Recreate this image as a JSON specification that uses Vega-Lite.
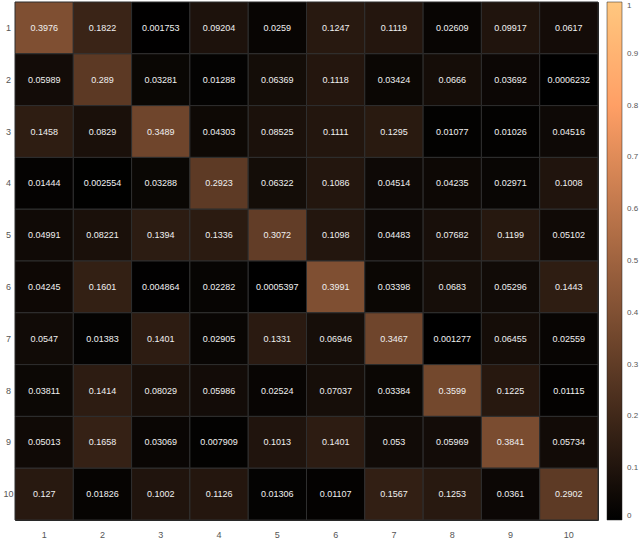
{
  "$schema": "https://vega.github.io/schema/vega-lite/v6.json",
  "autosize": {"type": "none"},
  "padding": {"left": 15, "top": 2, "right": 42, "bottom": 22},
  "width": 583,
  "height": 518,
  "background": "white",
  "config": {"view": {"stroke": "#222", "strokeWidth": 1}, "font": "Liberation Sans"},
  "data": {"values": [
    {"r":1,"c":1,"v":0.3976},{"r":1,"c":2,"v":0.1822},{"r":1,"c":3,"v":0.001753},{"r":1,"c":4,"v":0.09204},{"r":1,"c":5,"v":0.0259},{"r":1,"c":6,"v":0.1247},{"r":1,"c":7,"v":0.1119},{"r":1,"c":8,"v":0.02609},{"r":1,"c":9,"v":0.09917},{"r":1,"c":10,"v":0.0617},
    {"r":2,"c":1,"v":0.05989},{"r":2,"c":2,"v":0.289},{"r":2,"c":3,"v":0.03281},{"r":2,"c":4,"v":0.01288},{"r":2,"c":5,"v":0.06369},{"r":2,"c":6,"v":0.1118},{"r":2,"c":7,"v":0.03424},{"r":2,"c":8,"v":0.0666},{"r":2,"c":9,"v":0.03692},{"r":2,"c":10,"v":0.0006232},
    {"r":3,"c":1,"v":0.1458},{"r":3,"c":2,"v":0.0829},{"r":3,"c":3,"v":0.3489},{"r":3,"c":4,"v":0.04303},{"r":3,"c":5,"v":0.08525},{"r":3,"c":6,"v":0.1111},{"r":3,"c":7,"v":0.1295},{"r":3,"c":8,"v":0.01077},{"r":3,"c":9,"v":0.01026},{"r":3,"c":10,"v":0.04516},
    {"r":4,"c":1,"v":0.01444},{"r":4,"c":2,"v":0.002554},{"r":4,"c":3,"v":0.03288},{"r":4,"c":4,"v":0.2923},{"r":4,"c":5,"v":0.06322},{"r":4,"c":6,"v":0.1086},{"r":4,"c":7,"v":0.04514},{"r":4,"c":8,"v":0.04235},{"r":4,"c":9,"v":0.02971},{"r":4,"c":10,"v":0.1008},
    {"r":5,"c":1,"v":0.04991},{"r":5,"c":2,"v":0.08221},{"r":5,"c":3,"v":0.1394},{"r":5,"c":4,"v":0.1336},{"r":5,"c":5,"v":0.3072},{"r":5,"c":6,"v":0.1098},{"r":5,"c":7,"v":0.04483},{"r":5,"c":8,"v":0.07682},{"r":5,"c":9,"v":0.1199},{"r":5,"c":10,"v":0.05102},
    {"r":6,"c":1,"v":0.04245},{"r":6,"c":2,"v":0.1601},{"r":6,"c":3,"v":0.004864},{"r":6,"c":4,"v":0.02282},{"r":6,"c":5,"v":0.0005397},{"r":6,"c":6,"v":0.3991},{"r":6,"c":7,"v":0.03398},{"r":6,"c":8,"v":0.0683},{"r":6,"c":9,"v":0.05296},{"r":6,"c":10,"v":0.1443},
    {"r":7,"c":1,"v":0.0547},{"r":7,"c":2,"v":0.01383},{"r":7,"c":3,"v":0.1401},{"r":7,"c":4,"v":0.02905},{"r":7,"c":5,"v":0.1331},{"r":7,"c":6,"v":0.06946},{"r":7,"c":7,"v":0.3467},{"r":7,"c":8,"v":0.001277},{"r":7,"c":9,"v":0.06455},{"r":7,"c":10,"v":0.02559},
    {"r":8,"c":1,"v":0.03811},{"r":8,"c":2,"v":0.1414},{"r":8,"c":3,"v":0.08029},{"r":8,"c":4,"v":0.05986},{"r":8,"c":5,"v":0.02524},{"r":8,"c":6,"v":0.07037},{"r":8,"c":7,"v":0.03384},{"r":8,"c":8,"v":0.3599},{"r":8,"c":9,"v":0.1225},{"r":8,"c":10,"v":0.01115},
    {"r":9,"c":1,"v":0.05013},{"r":9,"c":2,"v":0.1658},{"r":9,"c":3,"v":0.03069},{"r":9,"c":4,"v":0.007909},{"r":9,"c":5,"v":0.1013},{"r":9,"c":6,"v":0.1401},{"r":9,"c":7,"v":0.053},{"r":9,"c":8,"v":0.05969},{"r":9,"c":9,"v":0.3841},{"r":9,"c":10,"v":0.05734},
    {"r":10,"c":1,"v":0.127},{"r":10,"c":2,"v":0.01826},{"r":10,"c":3,"v":0.1002},{"r":10,"c":4,"v":0.1126},{"r":10,"c":5,"v":0.01306},{"r":10,"c":6,"v":0.01107},{"r":10,"c":7,"v":0.1567},{"r":10,"c":8,"v":0.1253},{"r":10,"c":9,"v":0.0361},{"r":10,"c":10,"v":0.2902}
  ]},
  "encoding": {
    "x": {"field": "c", "type": "ordinal", "sort": "ascending",
      "scale": {"paddingInner": 0, "paddingOuter": 0},
      "axis": {"title": null, "labelAngle": 0, "domain": false, "ticks": false, "labelPadding": 10, "labelFontSize": 9, "labelColor": "#555", "labelFont": "Liberation Sans"}},
    "y": {"field": "r", "type": "ordinal", "sort": "ascending",
      "scale": {"paddingInner": 0, "paddingOuter": 0},
      "axis": {"title": null, "domain": false, "ticks": false, "labelPadding": 7, "labelFontSize": 9, "labelColor": "#555", "labelFont": "Liberation Sans", "labelAlign": "center", "labelBaseline": "middle"}}
  },
  "layer": [
    {
      "mark": {"type": "rect", "stroke": "#2e2e2e", "strokeWidth": 1},
      "encoding": {
        "color": {"field": "v", "type": "quantitative",
          "scale": {"type": "linear", "domain": [0, 0.8, 1], "range": ["#000000", "#ff9f65", "#ffc77f"], "interpolate": "rgb"},
          "legend": {"title": null, "orient": "none", "legendX": 592, "legendY": 0, "gradientLength": 518, "gradientThickness": 15,
            "values": [0, 0.1, 0.2, 0.3, 0.4, 0.5, 0.6, 0.7, 0.8, 0.9, 1], "format": ".1~f",
            "labelFontSize": 8, "labelColor": "#555", "labelFont": "Liberation Sans", "labelOffset": 5,
            "gradientStrokeColor": "#222", "gradientStrokeWidth": 0.5, "padding": 0}}
      }
    },
    {
      "mark": {"type": "text", "color": "#f0f0f0", "fontSize": 9, "font": "Liberation Sans"},
      "encoding": {"text": {"field": "v", "type": "quantitative", "format": ".4~r"}}
    }
  ]
}
